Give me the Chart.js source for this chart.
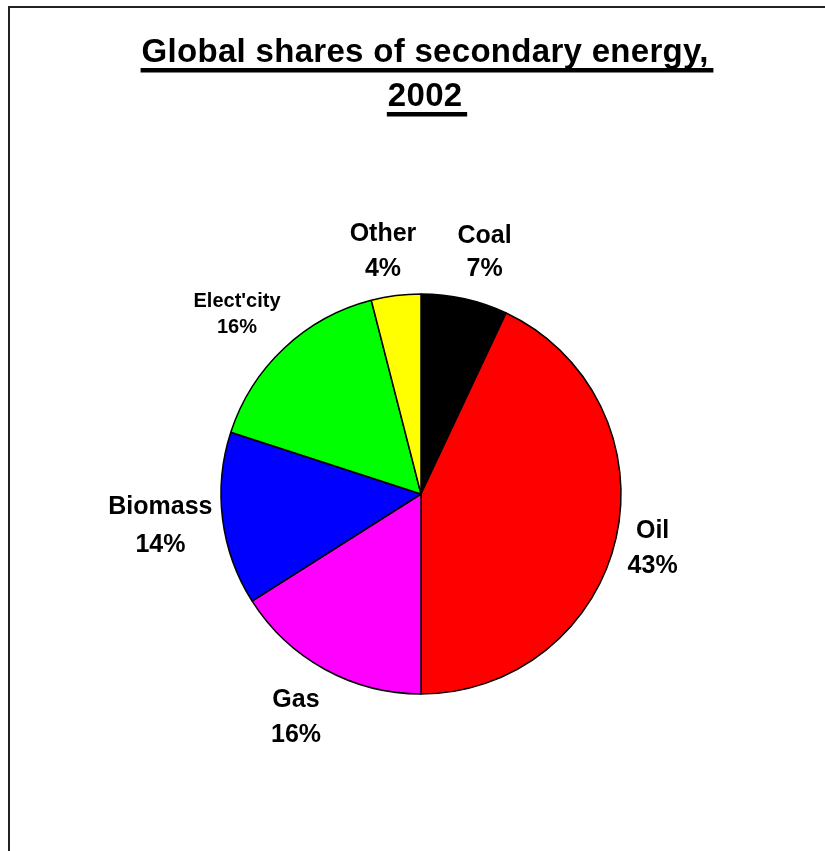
<!DOCTYPE html>
<html lang="en">
<head>
    <meta charset="UTF-8">
    <title>Global shares of secondary energy, 2002</title>
    <script src="https://cdn.jsdelivr.net/npm/chart.js"></script>
    <style>
        body {
            margin: 0;
            padding: 0;
            background-color: #ffffff;
        }
        canvas {
            display: block;
        }
    </style>
</head>
<body>
    <canvas id="energyChart" width="825" height="851"></canvas>

    <script>
        // Chart data
        const categories = ['Coal', 'Oil', 'Gas', 'Biomass', "Elect'city", 'Other'];
        const shares = [7, 43, 16, 14, 16, 4];  // percent
        const sliceColors = ['#000000', '#ff0000', '#ff00ff', '#0000ff', '#00ff00', '#ffff00'];
        const titleLines = ['Global shares of secondary energy,', '2002'];

        // Label placement, in units of the pie radius from its centre (as in the original)
        const labelLayout = [
            { ox: 0.318, oy: -1.218, size: 25, gap: 33 },
            { ox: 1.158, oy: 0.263, size: 25, gap: 35 },
            { ox: -0.625, oy: 1.108, size: 25, gap: 35 },
            { ox: -1.303, oy: 0.15, size: 25, gap: 38 },
            { ox: -0.92, oy: -0.905, size: 20, gap: 26 },
            { ox: -0.19, oy: -1.223, size: 25, gap: 35 }
        ];

        const FONT = '"Liberation Sans", Arial, sans-serif';

        // White page with the frame line at top and left
        const framePlugin = {
            id: 'frame',
            beforeDraw(chart) {
                const c = chart.ctx;
                c.save();
                c.fillStyle = '#ffffff';
                c.fillRect(0, 0, chart.width, chart.height);
                c.strokeStyle = '#222222';
                c.lineWidth = 2;
                c.strokeRect(9, 7, chart.width + 20, chart.height + 20);
                c.restore();
            }
        };

        // Underlined two line title
        const titlePlugin = {
            id: 'underTitle',
            afterDraw(chart) {
                const c = chart.ctx;
                c.save();
                c.font = 'bold 33px ' + FONT;
                c.letterSpacing = '0.3px';
                c.fillStyle = '#000000';
                c.textBaseline = 'alphabetic';
                const cx = 425;
                const baselines = [62, 106];
                titleLines.forEach((line, i) => {
                    const w = c.measureText(line).width - 0.3;
                    const x0 = cx - w / 2;
                    c.fillText(line, x0, baselines[i]);
                    c.fillRect(x0 - 1, baselines[i] + 6, w + 6, 4.5);
                });
                c.restore();
            }
        };

        // Category and percent labels outside the slices
        const labelPlugin = {
            id: 'sliceLabels',
            afterDatasetsDraw(chart) {
                const c = chart.ctx;
                const arcs = chart.getDatasetMeta(0).data;
                c.save();
                c.fillStyle = '#000000';
                c.textAlign = 'center';
                c.textBaseline = 'alphabetic';
                arcs.forEach((arc, i) => {
                    const lay = labelLayout[i];
                    const r = arc.outerRadius;
                    const x = arc.x + lay.ox * r;
                    const y = arc.y + lay.oy * r;
                    c.font = 'bold ' + lay.size + 'px ' + FONT;
                    const capMid = 0.358 * lay.size;
                    c.fillText(categories[i], x, y - lay.gap / 2 + capMid);
                    c.fillText(shares[i] + '%', x, y + lay.gap / 2 + capMid);
                });
                c.restore();
            }
        };

        const ctx = document.getElementById('energyChart').getContext('2d');
        const energyChart = new Chart(ctx, {
            type: 'pie',
            data: {
                labels: categories,
                datasets: [{
                    data: shares,
                    backgroundColor: sliceColors,
                    borderColor: '#000000',
                    borderWidth: 1.5,
                    radius: 200
                }]
            },
            options: {
                responsive: false,
                animation: false,
                layout: {
                    padding: { left: 17, right: 0, top: 294, bottom: 157 }
                },
                plugins: {
                    legend: { display: false },
                    tooltip: { enabled: false },
                    title: { display: false }
                }
            },
            plugins: [framePlugin, titlePlugin, labelPlugin]
        });
    </script>
</body>
</html>
